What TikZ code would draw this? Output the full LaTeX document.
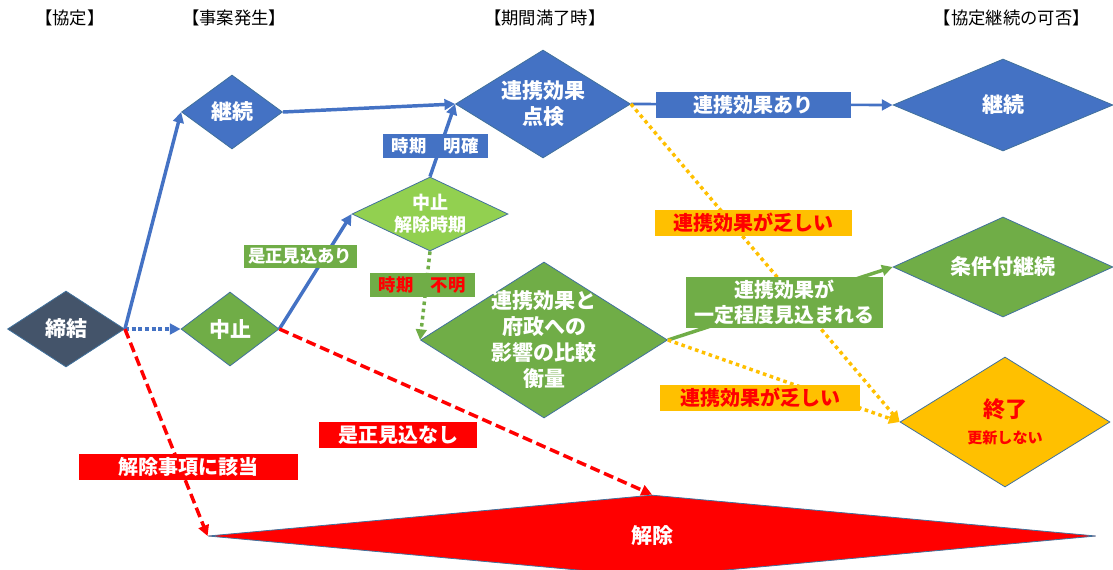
\documentclass[tikz,border=0pt]{standalone}
\usepackage{fontspec}
\setmainfont{Noto Sans CJK JP}
\usetikzlibrary{arrows.meta,shapes.geometric}
\definecolor{cblue}{HTML}{4472C4}
\definecolor{cgreen}{HTML}{70AD47}
\definecolor{clgreen}{HTML}{92D050}
\definecolor{cdark}{HTML}{44546A}
\definecolor{corange}{HTML}{FFC000}
\definecolor{cred}{HTML}{FF0000}
\definecolor{coutl}{HTML}{41719C}
\begin{document}
\begin{tikzpicture}[x=0.75pt,y=-0.75pt,
  dia/.style 2 args={shape=diamond, draw=coutl, line width=0.6pt, inner sep=0pt,
    minimum width=#1*0.75pt, minimum height=#2*0.75pt},
  dtext/.style={text=white, font=\fontsize{15.75pt}{19.5pt}\selectfont\bfseries, align=center, inner sep=0pt},
  hdr/.style={font=\fontsize{13pt}{15pt}\selectfont, inner sep=0pt},
  lab/.style 2 args={inner sep=0pt, minimum width=#1*0.75pt, minimum height=#2*0.75pt,
    font=\fontsize{15pt}{18.75pt}\selectfont\bfseries, align=center},
  slab/.style 2 args={lab={#1}{#2}, font=\fontsize{13pt}{15pt}\selectfont\bfseries},
  tip/.style={-{Triangle[length=8pt,width=8pt]}},
  bsolid/.style={tip, draw=cblue, line width=2.6pt},
  bdot/.style={tip, draw=cblue, line width=2.6pt, dash pattern=on 3pt off 2pt},
  rdash/.style={tip, draw=cred, line width=2.6pt, dash pattern=on 7.5pt off 3.6pt},
  gsolid/.style={tip, draw=cgreen, line width=2.6pt},
  gdot/.style={tip, draw=cgreen, line width=2.6pt, dash pattern=on 2.7pt off 2.7pt},
  odot/.style={tip, draw=corange, line width=2.6pt, dash pattern=on 2.7pt off 2.7pt},
]
\useasboundingbox (0,0) rectangle (1113,569);
\clip (0,0) rectangle (1113,569);

% headers
\node[hdr, anchor=west] (h1) at (35,18) {【協定】};
\node[hdr, anchor=west] (h2) at (182,18) {【事案発生】};
\node[hdr, anchor=west] (h3) at (484,18) {【期間満了時】};
\node[hdr, anchor=east] (h4) at (1090,18) {【協定継続の可否】};

% diamonds
\node[dia={117}{76}, fill=cdark, label={[dtext]center:締結}] (teiketsu) at (66,329) {};
\node[dia={98}{74}, fill=cgreen, label={[dtext]center:中止}] (chushi) at (230,329) {};
\node[dia={101}{74}, fill=cblue, label={[dtext]center:継続}] (keizoku1) at (232,112) {};
\node[dia={175}{108}, fill=cblue, label={[dtext]center:連携効果\\点検}] (tenken) at (543,104) {};
\node[dia={156}{74}, fill=clgreen, label={[dtext, font=\fontsize{13.5pt}{16.5pt}\selectfont\bfseries]center:中止\\解除時期}] (kaijojiki) at (430,214) {};
\node[dia={247}{156}, fill=cgreen, label={[dtext]center:連携効果と\\府政への\\影響の比較\\衡量}] (hikaku) at (544,340) {};
\node[dia={220}{92}, fill=cblue, label={[dtext]center:継続}] (keizoku2) at (1003,105) {};
\node[dia={220}{100}, fill=cgreen, label={[dtext]center:条件付継続}] (joken) at (1003,267) {};
\node[dia={210}{130}, fill=corange, label={[dtext, text=cred]center:{\fontsize{16.5pt}{24pt}\selectfont 終了}\\{\fontsize{11.3pt}{14pt}\selectfont 更新しない}}] (shuryo) at (1005,422) {};
\node[dia={888}{82}, fill=cred, label={[dtext]center:解除}] (kaijo) at (652,536) {};

% connectors
\draw[bsolid] (teiketsu.east) -- (keizoku1.west);
\draw[bdot] (teiketsu.east) -- (chushi.west);
\draw[rdash] (teiketsu.east) -- (kaijo.west);
\draw[bsolid] (chushi.east) -- (kaijojiki.west);
\draw[rdash] (chushi.east) -- (kaijo.north);
\draw[bsolid] (keizoku1.east) -- (tenken.west);
\draw[bsolid] (kaijojiki.north) -- (tenken.west);
\draw[gdot] (kaijojiki.south) -- (hikaku.west);
\draw[bsolid, line width=2pt] (tenken.east) -- (keizoku2.west);
\draw[odot] (tenken.east) -- (shuryo.west);
\draw[gsolid] (hikaku.east) -- (joken.west);
\draw[odot] (hikaku.east) -- (shuryo.west);

% labels
\node[slab={113}{23}, fill=cgreen, text=white] (l1) at (300,256) {是正見込あり};
\node[slab={105}{24}, fill=cblue, text=white] (l2) at (435,146) {時期\quad 明確};
\node[slab={105}{24}, fill=cgreen, text=cred] (l3) at (422,285) {時期\quad 不明};
\node[lab={195}{26}, fill=cblue, text=white] (l4) at (753,105) {連携効果あり};
\node[lab={197}{26}, fill=corange, text=cred] (l5) at (753,223) {連携効果が乏しい};
\node[lab={197}{51}, fill=cgreen, text=white] (l6) at (784,302) {連携効果が\\一定程度見込まれる};
\node[lab={200}{26}, fill=corange, text=cred] (l7) at (760,398) {連携効果が乏しい};
\node[lab={158}{26}, fill=cred, text=white] (l8) at (398,435) {是正見込なし};
\node[lab={219}{26}, fill=cred, text=white] (l9) at (188,467) {解除事項に該当};
\end{tikzpicture}
\end{document}
